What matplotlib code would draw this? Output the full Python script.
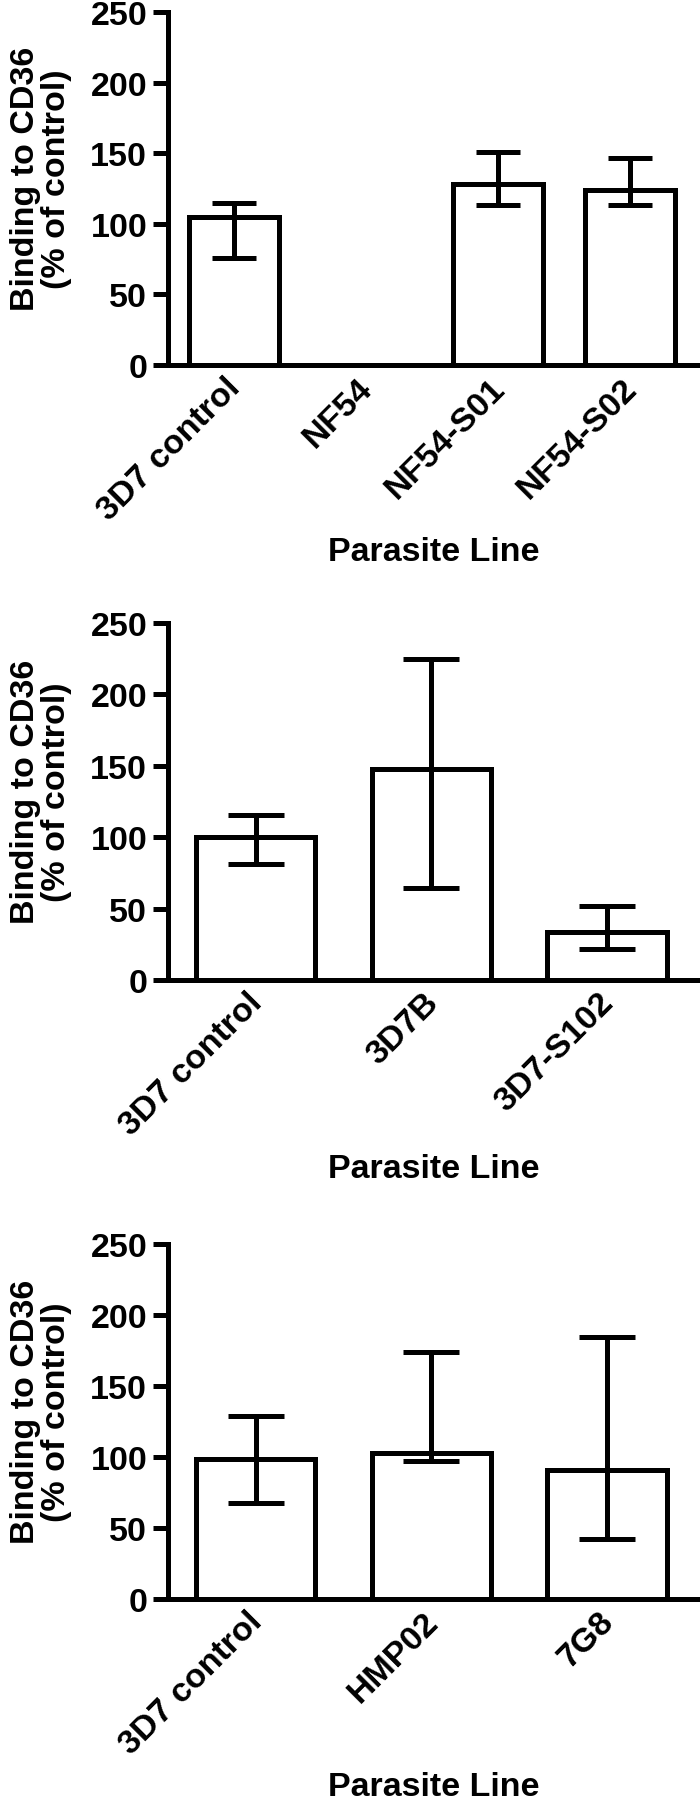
import matplotlib
matplotlib.use("Agg")
import matplotlib.pyplot as plt
import matplotlib.transforms as mtransforms
import numpy as np

plt.rcParams["font.family"] = ["Liberation Sans", "DejaVu Sans"]
plt.rcParams["font.weight"] = "bold"

# panel A
lines_a = ["3D7 control", "NF54", "NF54-S01", "NF54-S02"]
mean_a = [104.5, 0, 128, 124]
low_a = [75.5, np.nan, 113, 113]
high_a = [114.5, np.nan, 150.5, 146.5]

# panel B
lines_b = ["3D7 control", "3D7B", "3D7-S102"]
mean_b = [100, 147.5, 33.5]
low_b = [81.5, 64.5, 22]
high_b = [115.5, 224.5, 52]

# panel C
lines_c = ["3D7 control", "HMP02", "7G8"]
mean_c = [98.5, 103, 91]
low_c = [67.5, 97.5, 42.5]
high_c = [129, 174, 184.5]

LW = 3.6
FS = 24.5
W, H = 700, 1799


def draw_panel(rect, names, mean, low, high, capsize):
    ax = fig.add_axes(rect)
    x = np.arange(len(names))
    mean = np.array(mean, dtype=float)
    yerr = np.vstack([mean - np.array(low), np.array(high) - mean])
    ax.bar(x, mean, width=0.68, color="white", edgecolor="black",
           linewidth=LW, zorder=2)
    ax.errorbar(x, mean, yerr=yerr, fmt="none", ecolor="black",
                elinewidth=LW, capsize=capsize, capthick=LW, zorder=3)

    ax.set_ylim(0, 250)
    ax.set_xlim(-0.5, len(names) - 0.47)
    ax.set_yticks([0, 50, 100, 150, 200, 250])
    ax.set_xticks(x)
    ax.set_xticklabels([])
    # rotated category labels, nudged left/down like the original
    trans = ax.get_xaxis_transform() + mtransforms.ScaledTranslation(
        -0.09, -0.07, fig.dpi_scale_trans)
    for xi, name in zip(x, names):
        ax.text(xi, 0, name, transform=trans, rotation=45, ha="right",
                va="top", rotation_mode="anchor", fontsize=FS,
                fontweight="bold")
    for s in ["top", "right"]:
        ax.spines[s].set_visible(False)
    for s in ["left", "bottom"]:
        ax.spines[s].set_linewidth(LW)
        ax.spines[s].set_zorder(4)
    ax.tick_params(axis="y", length=11, width=LW, labelsize=FS, pad=4)
    ax.tick_params(axis="x", length=0)

    ax.set_ylabel("Binding to CD36\n(% of control)", fontsize=FS,
                  fontweight="bold", linespacing=1.0)
    ax.yaxis.set_label_coords(-0.18, 0.53)
    ax.set_xlabel("Parasite Line", fontsize=FS, fontweight="bold")
    ax.xaxis.set_label_coords(0.5, -0.485)
    return ax


def rect_px(left, top, right, bottom):
    return [left / W, 1 - bottom / H, (right - left) / W, (bottom - top) / H]


fig = plt.figure(figsize=(W / 100, H / 100), dpi=100)

draw_panel(rect_px(168, 13, 700, 366), lines_a, mean_a, low_a, high_a, 16)
draw_panel(rect_px(168, 624, 700, 981), lines_b, mean_b, low_b, high_b, 20)
draw_panel(rect_px(168, 1245, 700, 1600), lines_c, mean_c, low_c, high_c, 20)

fig.savefig("out.png", dpi=100)
